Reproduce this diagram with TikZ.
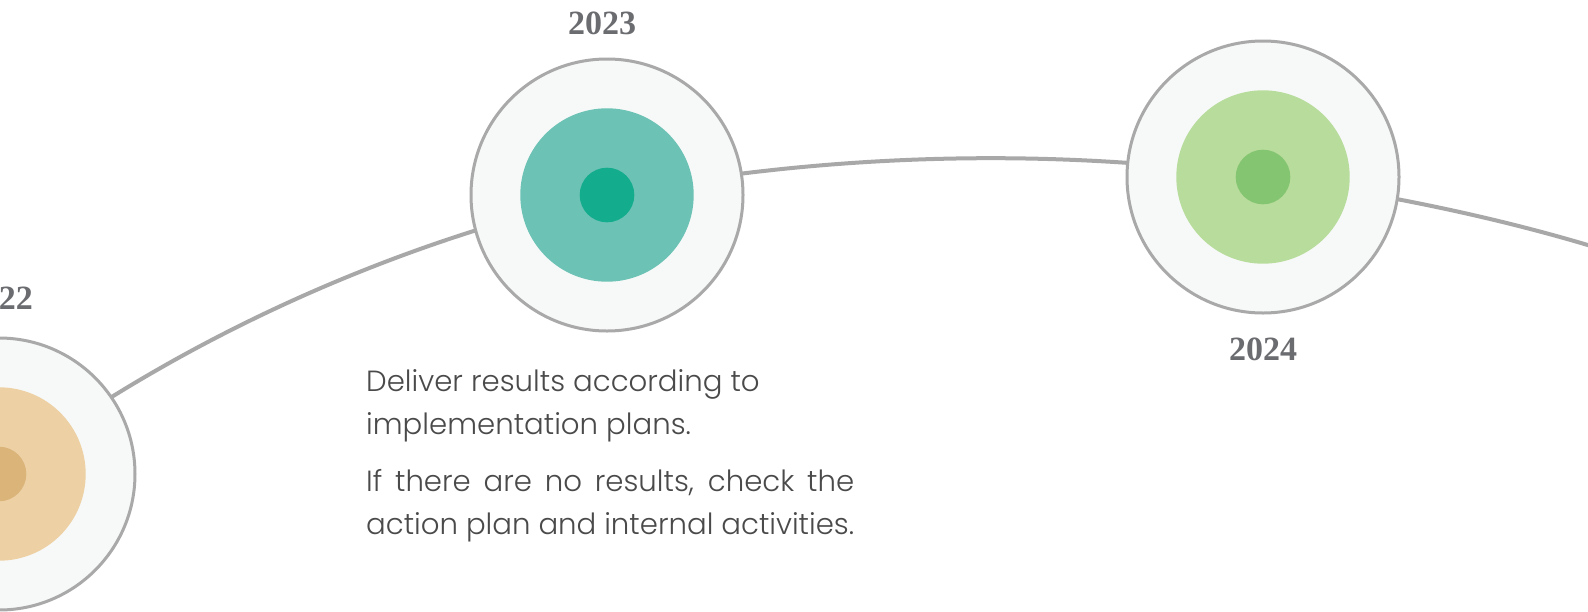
\documentclass[tikz,border=0pt]{standalone}
\usepackage{fontspec}
\setmainfont{Liberation Serif}
\newfontfamily\bodyfont{Poppins Light}
\definecolor{trackgray}{HTML}{A8A8A8}
\definecolor{ringgray}{HTML}{A9A9A9}
\definecolor{ringfill}{HTML}{F7F9F8}
\definecolor{yeargray}{HTML}{6B6C70}
\definecolor{bodygray}{HTML}{4A4A4A}
\definecolor{sandmid}{HTML}{EDD1A5}
\definecolor{sanddot}{HTML}{DBB47A}
\definecolor{tealmid}{HTML}{6CC2B4}
\definecolor{tealdot}{HTML}{13AD8E}
\definecolor{limemid}{HTML}{B8DC9B}
\definecolor{limedot}{HTML}{84C571}
\begin{document}
\begin{tikzpicture}[x=1pt,y=1pt,
  ring/.style={circle, draw=ringgray, line width=3pt, fill=ringfill,
    minimum size=272pt, inner sep=0pt},
  disc/.style={circle, minimum size=173.4pt, inner sep=0pt},
  dot/.style={circle, minimum size=54.6pt, inner sep=0pt},
  year/.style={font=\fontsize{34}{36}\selectfont\bfseries, text=yeargray, inner sep=0pt},
  body/.style={font=\bodyfont\fontsize{29.2}{42.3}\selectfont, text=bodygray,
    text width=488pt, align=justify, inner sep=0pt, anchor=base west},
  track/.style={draw=trackgray, line width=4pt, looseness=0.85}]
\useasboundingbox (0,0) rectangle (1588,-611);
\fill[white] (0,0) rectangle (1588,-611);

% milestone centres and the loose end of the track
\coordinate (p22) at (-1,-474);
\coordinate (p23) at (607,-195);
\coordinate (p24) at (1263,-177);
\coordinate (tail) at (1600,-248.7);

% the track runs behind the milestones
\draw[track] (p22) to[out=37,in=192.6] (p23)
                   to[out=11,in=172] (p24)
                   to[out=-8,in=163] (tail);

% milestones
\node[ring] (r22) at (p22) {};
\node[disc, fill=sandmid] (d22) at (p22) {};
\node[dot, fill=sanddot] (c22) at (p22) {};

\node[ring] (r23) at (p23) {};
\node[disc, fill=tealmid] (d23) at (p23) {};
\node[dot, fill=tealdot] (c23) at (p23) {};

\node[ring] (r24) at (p24) {};
\node[disc, fill=limemid] (d24) at (p24) {};
\node[dot, fill=limedot] (c24) at (p24) {};

% years
\node[year] (y22) at (-1,-298) {2022};
\node[year] (y23) at (602,-23) {2023};
\node[year] (y24) at (1263,-349) {2024};

% description
\node[body] (t1) at (366,-391.7) {Deliver results according to\\ implementation plans.};
\node[body] (t2) at (366,-491.7) {If there are no results, check the\linebreak action plan and internal activities.};
\end{tikzpicture}
\end{document}
